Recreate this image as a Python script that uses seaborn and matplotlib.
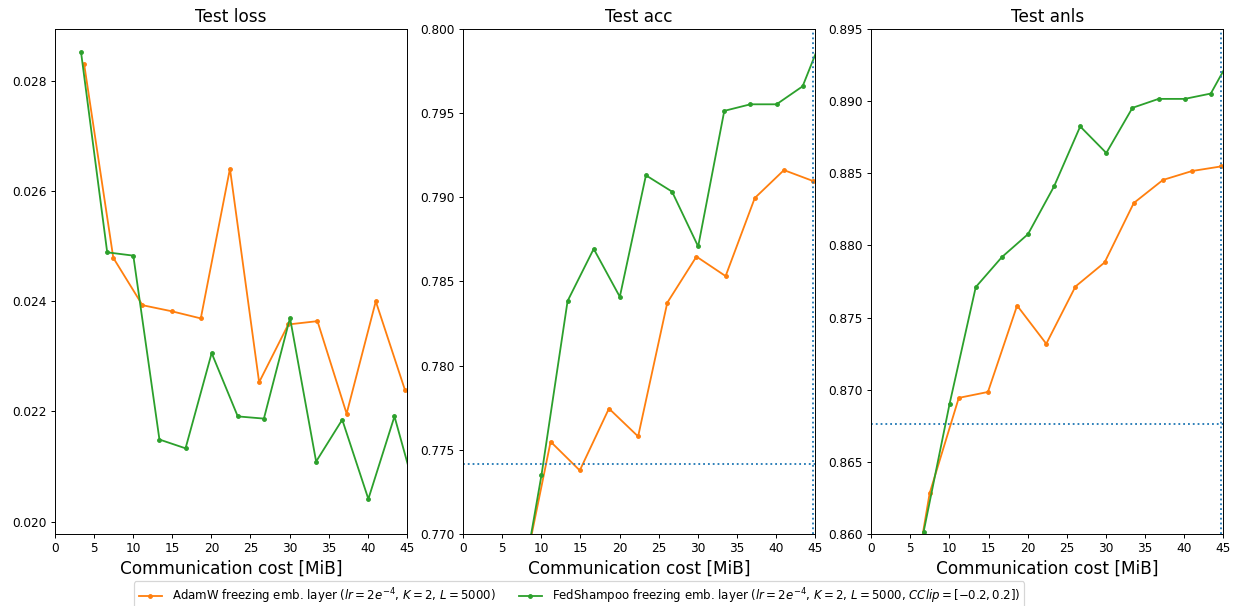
import numpy as np
import pandas as pd
import matplotlib
matplotlib.use("Agg")
import matplotlib.pyplot as plt
import seaborn as sns

# ---- data ----
adam_label = r"AdamW freezing emb. layer ($lr=2e^{-4}$, $K=2$, $L=5000$)"
shampoo_label = r"FedShampoo freezing emb. layer ($lr=2e^{-4}$, $K=2$, $L=5000$, $CClip=[-0.2,0.2]$)"

adam_cost = [3.73, 7.46, 11.19, 14.92, 18.65, 22.38, 26.11, 29.84, 33.57, 37.30, 41.03, 44.76]
shampoo_cost = [3.34, 6.68, 10.02, 13.36, 16.70, 20.04, 23.38, 26.72, 30.06, 33.40, 36.74, 40.08, 43.42, 46.76]

adam_loss = [0.02831, 0.02479, 0.02393, 0.02382, 0.02369, 0.02641, 0.02253, 0.02358, 0.02364, 0.02196, 0.02400, 0.02239]
shampoo_loss = [0.02852, 0.02489, 0.02483, 0.02149, 0.02133, 0.02306, 0.02191, 0.02187, 0.02370, 0.02109, 0.02185, 0.02041, 0.02191, 0.02020]

adam_acc = [np.nan, 0.7670, 0.77548, 0.77377, 0.77745, 0.77579, 0.78374, 0.78648, 0.78532, 0.78996, 0.79162, 0.79097]
shampoo_acc = [np.nan, 0.7646, 0.77349, 0.78384, 0.78694, 0.78409, 0.79131, 0.79034, 0.78708, 0.79514, 0.79553, 0.79553, 0.79660, 0.8005]

adam_anls = [0.8508, 0.86281, 0.86943, 0.86984, 0.87583, 0.87318, 0.87715, 0.87882, 0.88294, 0.88454, 0.88516, 0.88548]
shampoo_anls = [np.nan, 0.86011, 0.86903, 0.87711, 0.87919, 0.88078, 0.88410, 0.88825, 0.88641, 0.88954, 0.89016, 0.89016, 0.89053, 0.8938]

titles = ["Test loss", "Test acc", "Test anls"]
ref_hline = [None, 0.77413, 0.86762]
ref_vline = [None, 44.7, 44.7]
ylims = [(0.019776, 0.028945), (0.770, 0.800), (0.860, 0.895)]


def frame(a_vals, s_vals):
    d1 = pd.DataFrame({"cost": adam_cost, "value": a_vals, "method": adam_label})
    d2 = pd.DataFrame({"cost": shampoo_cost, "value": s_vals, "method": shampoo_label})
    return pd.concat([d1, d2], ignore_index=True).dropna()


frames = [frame(adam_loss, shampoo_loss), frame(adam_acc, shampoo_acc), frame(adam_anls, shampoo_anls)]

fig, axes = plt.subplots(1, 3, figsize=(1238 / 87, 606 / 87), dpi=87)
fig.subplots_adjust(left=0.0444, right=0.988, top=0.952, bottom=0.119, wspace=0.16)

for i, ax in enumerate(axes):
    sns.lineplot(data=frames[i], x="cost", y="value", hue="method",
                 hue_order=[adam_label, shampoo_label],
                 palette=["tab:orange", "tab:green"], marker=".", markersize=6,
                 estimator=None, sort=False, legend=False, ax=ax)
    for ln in ax.get_lines():
        ln.set_markeredgecolor(ln.get_color())
        ln.set_markerfacecolor(ln.get_color())
        ln.set_markeredgewidth(1.0)
    if ref_hline[i] is not None:
        ax.axhline(ref_hline[i], color="tab:blue", linestyle=":", linewidth=1.5)
        ax.axvline(ref_vline[i], color="tab:blue", linestyle=":", linewidth=1.5)
    ax.set_xlim(0, 45)
    ax.set_ylim(*ylims[i])
    ax.set_title(titles[i], fontsize=14)
    ax.set_xlabel("Communication cost [MiB]", fontsize=14)
    ax.set_ylabel("")
    ax.tick_params(labelsize=10)

handles = axes[0].get_lines()[:2]
fig.legend(handles, [adam_label, shampoo_label], loc="lower center", ncol=2,
           bbox_to_anchor=(0.4679, -0.007), borderaxespad=0.0, fontsize=9.7)

fig.savefig("out.png", dpi=87)
